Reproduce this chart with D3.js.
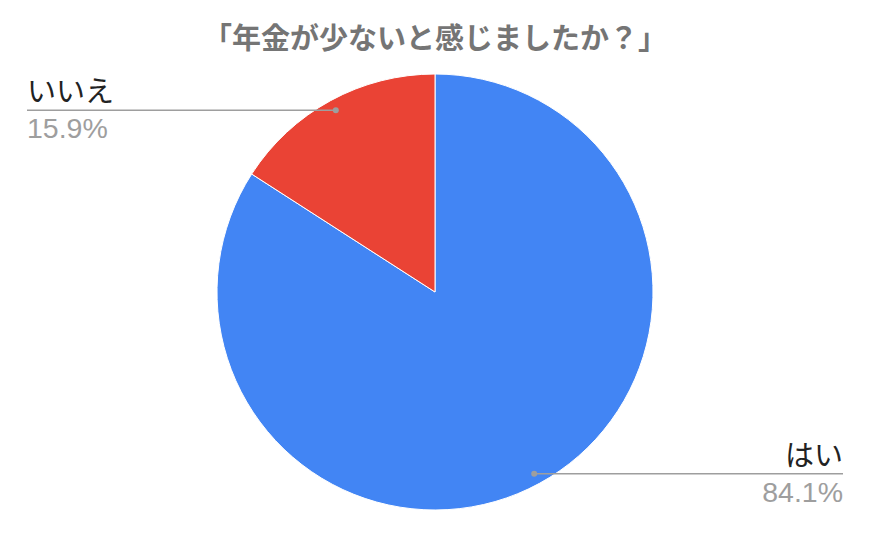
<!DOCTYPE html>
<html>
<head>
<meta charset="utf-8">
<script src="https://cdn.jsdelivr.net/npm/d3@7"></script>
<style>
body { margin: 0; background: #fff; }
text { font-family: "Liberation Sans", Arial, "Noto Sans CJK JP", sans-serif; }
</style>
</head>
<body>
<script>
var title = '「年金が少ないと感じましたか？」';
var labels = ['はい', 'いいえ'];
var values = [84.1, 15.9];
var colors = ['#4285f4', '#ea4335'];

var width = 870, height = 537;
var cx = 435, cy = 292, r = 218;

var svg = d3.select('body').append('svg')
  .attr('width', width).attr('height', height);

svg.append('text')
  .attr('x', 435).attr('y', 49)
  .attr('text-anchor', 'middle')
  .attr('fill', '#757575')
  .style('font-family', '"Noto Sans CJK JP", sans-serif')
  .style('font-weight', 'bold')
  .style('font-size', '29px')
  .text(title);

var data = labels.map(function(l, i) { return {label: l, value: values[i], color: colors[i]}; });

var pie = d3.pie().sort(null).value(function(d) { return d.value; });
var arc = d3.arc().innerRadius(0).outerRadius(r);
var arcs = pie(data);

var g = svg.append('g').attr('transform', 'translate(' + cx + ',' + cy + ')');
g.selectAll('path.slice')
  .data(arcs)
  .enter().append('path').attr('class', 'slice')
  .attr('d', arc)
  .attr('fill', function(d) { return d.data.color; })
  .attr('stroke', '#fff')
  .attr('stroke-width', 1);

// leader lines and labels
var dotArc = d3.arc().innerRadius(r * 0.95).outerRadius(r * 0.95);
var lineEnd = [843, 27];

arcs.forEach(function(d, i) {
  var c = dotArc.centroid(d);
  var px = cx + c[0], py = cy + c[1];
  var right = c[0] > 0;
  svg.append('line')
    .attr('x1', px).attr('y1', py)
    .attr('x2', lineEnd[i]).attr('y2', py)
    .attr('stroke', '#9e9e9e').attr('stroke-width', 1.5);
  svg.append('circle')
    .attr('cx', px).attr('cy', py).attr('r', 3)
    .attr('fill', '#9e9e9e');
  svg.append('text')
    .attr('x', lineEnd[i]).attr('y', py - 8)
    .attr('text-anchor', right ? 'end' : 'start')
    .attr('fill', '#222')
    .style('font-family', '"Noto Sans CJK JP", sans-serif')
    .style('font-size', '29px')
    .text(d.data.label);
  svg.append('text')
    .attr('x', lineEnd[i]).attr('y', py + 28)
    .attr('text-anchor', right ? 'end' : 'start')
    .attr('fill', '#9e9e9e')
    .style('font-size', '28.5px')
    .text(d.data.value.toFixed(1) + '%');
});
</script>
</body>
</html>
